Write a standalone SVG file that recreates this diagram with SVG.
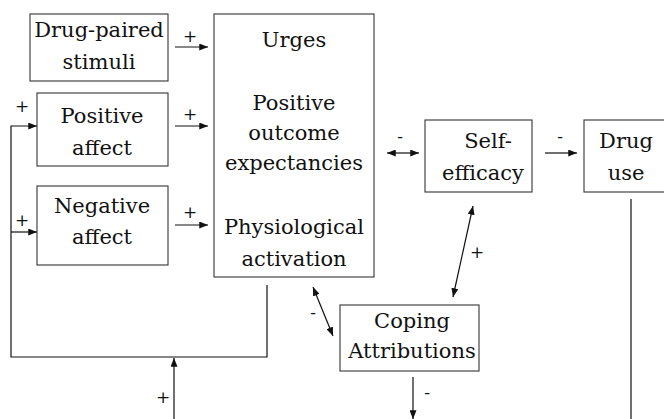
<svg xmlns="http://www.w3.org/2000/svg" width="664" height="419" viewBox="0 0 664 419">
<style>
.box{fill:#fff;stroke:#333;stroke-width:1.1}
.t{font-family:'DejaVu Serif',serif;font-size:21px;fill:#111;text-anchor:middle}
.s{font-family:'DejaVu Serif',serif;font-size:17px;fill:#111;text-anchor:middle}
.ln{fill:none;stroke:#111;stroke-width:1.2}
</style>
<defs>
<marker id="ah" viewBox="0 0 10 8" refX="10" refY="4" markerWidth="9" markerHeight="7" markerUnits="userSpaceOnUse" orient="auto-start-reverse">
<path d="M0,0 L10,4 L0,8 Z" fill="#111"/>
</marker>
</defs>
<rect width="664" height="419" fill="#fff"/>
<g id="connectors">
<line class="ln" x1="175" y1="47" x2="208" y2="47" marker-end="url(#ah)"/>
<line class="ln" x1="175" y1="126" x2="208" y2="126" marker-end="url(#ah)"/>
<line class="ln" x1="175" y1="225" x2="208" y2="225" marker-end="url(#ah)"/>
<polyline class="ln" points="267,285 267,357 11,357 11,126 37,126" marker-end="url(#ah)"/>
<line class="ln" x1="11" y1="232" x2="37" y2="232" marker-end="url(#ah)"/>
<line class="ln" x1="174" y1="419" x2="174" y2="358" marker-end="url(#ah)"/>
<line class="ln" x1="413" y1="377" x2="413" y2="419" marker-end="url(#ah)"/>
<line class="ln" x1="631" y1="199" x2="631" y2="419"/>
<line class="ln" x1="387" y1="153" x2="419" y2="153" marker-start="url(#ah)" marker-end="url(#ah)"/>
<line class="ln" x1="545" y1="153" x2="577" y2="153" marker-end="url(#ah)"/>
<line class="ln" x1="473" y1="206" x2="453" y2="297" marker-start="url(#ah)" marker-end="url(#ah)"/>
<line class="ln" x1="313" y1="287" x2="333" y2="336" marker-start="url(#ah)" marker-end="url(#ah)"/>
<text class="s" x="190" y="42">+</text>
<text class="s" x="190" y="120">+</text>
<text class="s" x="190" y="218">+</text>
<text class="s" x="22" y="112">+</text>
<text class="s" x="22" y="226">+</text>
<text class="s" x="400" y="142">-</text>
<text class="s" x="560" y="142">-</text>
<text class="s" x="477" y="258">+</text>
<text class="s" x="313" y="318">-</text>
<text class="s" x="163" y="403">+</text>
<text class="s" x="427" y="398">-</text>
</g>
<g id="drug-paired-stimuli">
<rect class="box" x="30" y="14" width="138" height="67"/>
<text class="t" x="99" y="37">Drug-paired</text>
<text class="t" x="99" y="69">stimuli</text>
</g>
<g id="positive-affect">
<rect class="box" x="37" y="93" width="131" height="73"/>
<text class="t" x="102" y="123">Positive</text>
<text class="t" x="102" y="155">affect</text>
</g>
<g id="negative-affect">
<rect class="box" x="37" y="186" width="131" height="79"/>
<text class="t" x="102" y="213">Negative</text>
<text class="t" x="102" y="244">affect</text>
</g>
<g id="urges-box">
<rect class="box" x="214" y="14" width="160" height="263"/>
<text class="t" x="294" y="47">Urges</text>
<text class="t" x="294" y="110">Positive</text>
<text class="t" x="294" y="140">outcome</text>
<text class="t" x="294" y="170">expectancies</text>
<text class="t" x="294" y="234">Physiological</text>
<text class="t" x="294" y="266">activation</text>
</g>
<g id="self-efficacy">
<rect class="box" x="425" y="120" width="107" height="72"/>
<text class="t" x="488" y="148">Self-</text>
<text class="t" x="483" y="180">efficacy</text>
</g>
<g id="drug-use">
<rect class="box" x="584" y="120" width="84" height="72"/>
<text class="t" x="626" y="148">Drug</text>
<text class="t" x="626" y="180">use</text>
</g>
<g id="coping-attributions">
<rect class="box" x="340" y="305" width="139" height="66"/>
<text class="t" x="412" y="328">Coping</text>
<text class="t" x="412" y="358">Attributions</text>
</g>
</svg>
